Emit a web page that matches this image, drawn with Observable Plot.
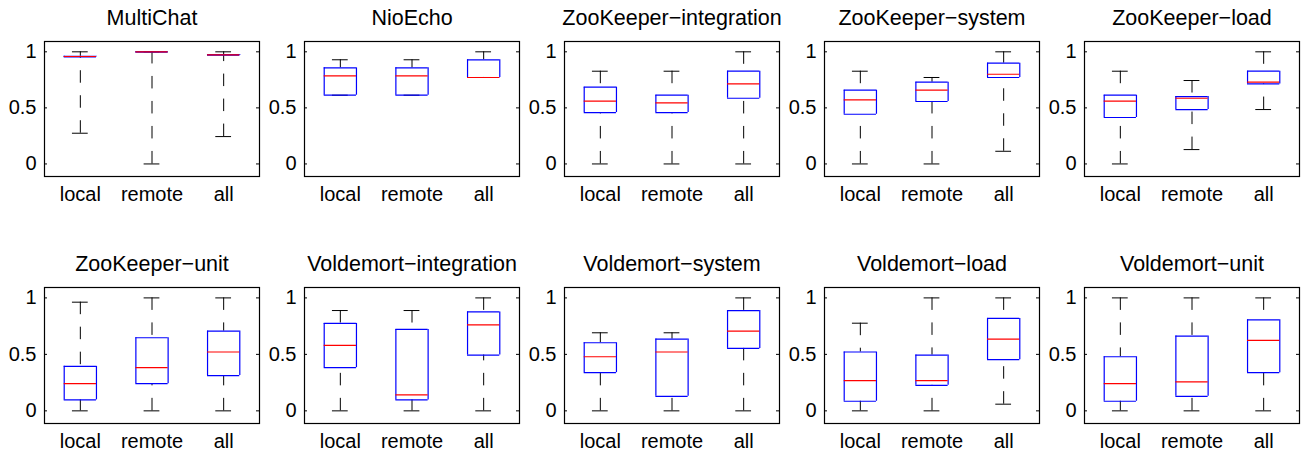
<!DOCTYPE html>
<html><head><meta charset="utf-8">
<script src="https://cdn.jsdelivr.net/npm/d3@7"></script>
<script src="https://cdn.jsdelivr.net/npm/@observablehq/plot@0.6"></script>
<style>
html,body{margin:0;padding:0;background:#fff;overflow:hidden;}
#chart{position:relative;width:1305px;height:453px;overflow:hidden;background:#fff;}
#chart svg{position:absolute;overflow:visible;}
</style></head><body><div id="chart"></div>
<script>
const categories = ["local", "remote", "all"];
const titles = ["MultiChat", "NioEcho", "ZooKeeper\u2212integration", "ZooKeeper\u2212system", "ZooKeeper\u2212load",
  "ZooKeeper\u2212unit", "Voldemort\u2212integration", "Voldemort\u2212system", "Voldemort\u2212load", "Voldemort\u2212unit"];
const yTicks = [0, 0.5, 1];
const yTickLabels = ["0", "0.5", "1"];

// one inner array per panel, values in category order (local, remote, all)
const whiskerHigh = [
  [1.0, 1.0, 1.0], [0.929, 0.929, 1.0], [0.827, 0.827, 1.0], [0.827, 0.771, 1.0], [0.827, 0.744, 1.0],
  [0.962, 1.0, 1.0], [0.888, 0.888, 1.0], [0.691, 0.691, 1.0], [0.776, 1.0, 1.0], [1.0, 1.0, 1.0]];
const q3 = [
  [0.96, 1.0, 0.975], [0.857, 0.857, 0.929], [0.685, 0.613, 0.827], [0.658, 0.729, 0.899], [0.613, 0.601, 0.827],
  [0.394, 0.647, 0.706], [0.774, 0.721, 0.876], [0.603, 0.635, 0.888], [0.521, 0.494, 0.818], [0.479, 0.662, 0.806]];
const median = [
  [0.958, 1.0, 0.973], [0.786, 0.786, 0.771], [0.56, 0.545, 0.714], [0.571, 0.658, 0.8], [0.56, 0.586, 0.729],
  [0.241, 0.382, 0.521], [0.579, 0.141, 0.762], [0.479, 0.521, 0.706], [0.268, 0.268, 0.635], [0.241, 0.256, 0.624]];
const q1 = [
  [0.955, 1.0, 0.97], [0.613, 0.613, 0.771], [0.458, 0.458, 0.586], [0.443, 0.557, 0.771], [0.414, 0.485, 0.714],
  [0.097, 0.241, 0.312], [0.382, 0.097, 0.494], [0.338, 0.129, 0.553], [0.085, 0.226, 0.453], [0.085, 0.129, 0.338]];
const whiskerLow = [
  [0.274, 0, 0.244], [0.613, 0.613, 0.771], [0, 0, 0], [0, 0, 0.113], [0, 0.128, 0.485],
  [0, 0, 0], [0, 0, 0], [0, 0, 0], [0, 0, 0.059], [0, 0, 0]];

const FONT = '"Liberation Sans", Arial, Helvetica, sans-serif';
const BOX_HALF = 0.225, CAP_HALF = 0.11;
const chart = document.getElementById("chart");

titles.forEach((title, p) => {
  const row = Math.floor(p / 5), col = p % 5;
  const data = categories.map((c, i) => ({
    pos: i + 1, cat: c,
    lo: whiskerLow[p][i], q1: q1[p][i], med: median[p][i], q3: q3[p][i], hi: whiskerHigh[p][i]
  }));
  const frameH = row === 0 ? 135 : 136;
  const left = d => d.pos - BOX_HALF, right = d => d.pos + BOX_HALF;
  const capL = d => d.pos - CAP_HALF, capR = d => d.pos + CAP_HALF;
  const plot = Plot.plot({
    width: 260, height: 41 + frameH + 35,
    marginLeft: 44, marginRight: 1, marginTop: 41, marginBottom: 35,
    style: {fontFamily: FONT, fontSize: "20px", background: "transparent", color: "black"},
    x: {type: "linear", domain: [0.5, 3.5], label: null},
    y: {type: "linear", domain: [-0.112, 1.092], label: null},
    marks: [
      // whiskers (dashed), drawn from the cap toward the box
      Plot.ruleX(data, {x: "pos", y1: "hi", y2: "q3", stroke: "black", strokeWidth: 1, strokeDasharray: "12.5,12.5"}),
      Plot.ruleX(data, {x: "pos", y1: "lo", y2: "q1", stroke: "black", strokeWidth: 1, strokeDasharray: "12.5,12.5"}),
      // caps
      Plot.ruleY(data, {y: "hi", x1: capL, x2: capR, stroke: "black", strokeWidth: 1}),
      Plot.ruleY(data, {y: "lo", x1: capL, x2: capR, stroke: "black", strokeWidth: 1}),
      // boxes
      Plot.ruleY(data, {y: "q1", x1: left, x2: right, stroke: "#0000ff", strokeWidth: 1.2}),
      Plot.ruleY(data, {y: "q3", x1: left, x2: right, stroke: "#0000ff", strokeWidth: 1.2}),
      Plot.ruleX(data, {x: left, y1: "q1", y2: "q3", stroke: "#0000ff", strokeWidth: 1.2}),
      Plot.ruleX(data, {x: right, y1: "q1", y2: "q3", stroke: "#0000ff", strokeWidth: 1.2}),
      // medians
      Plot.ruleY(data, {y: "med", x1: left, x2: right, stroke: "#ff0000", strokeWidth: 1.2}),
      // inward ticks left and right
      Plot.ruleY(yTicks, {insetRight: 212, stroke: "black"}),
      Plot.ruleY(yTicks, {insetLeft: 212, stroke: "black"}),
      Plot.frame({stroke: "black", strokeWidth: 1.2}),
      Plot.axisY(yTicks, {label: null, tickSize: 0, tickPadding: 8, tickFormat: d => yTickLabels[yTicks.indexOf(d)], fontSize: 20, fill: "black"}),
      Plot.axisX([1, 2, 3], {label: null, tickSize: 0, tickPadding: 10, tickFormat: d => categories[d - 1], fontSize: 20, fill: "black"}),
      Plot.text([title], {frameAnchor: "top", dy: -23, lineAnchor: "middle", fontSize: 21.5, fill: "black"})
    ]
  });
  plot.style.left = (col * 260) + "px";
  plot.style.top = (row === 0 ? 0 : 246) + "px";
  chart.appendChild(plot);
});
</script>
</body></html>
